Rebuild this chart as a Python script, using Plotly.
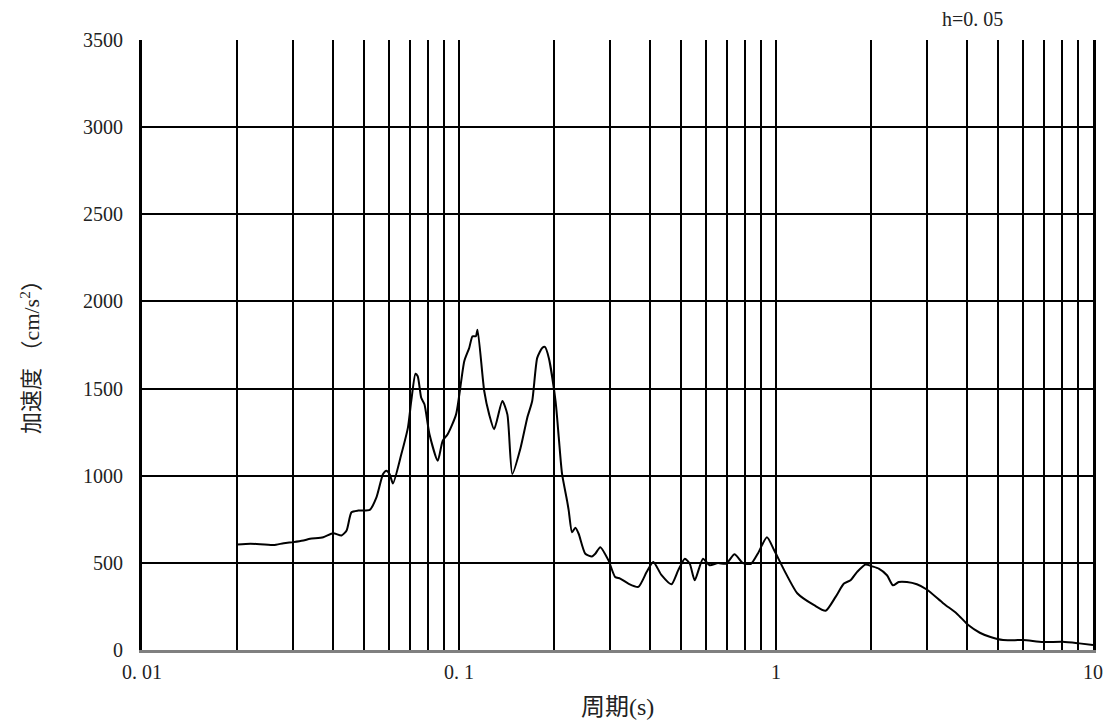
import plotly.graph_objects as go

# Acceleration response spectrum (h = 0.05)
period_s = [
    0.0200, 0.0220, 0.0260, 0.0280, 0.0300, 0.0323, 0.0339, 0.0373, 0.0401, 0.0426,
    0.0442, 0.0458, 0.0481, 0.0523, 0.0549, 0.0576, 0.0590, 0.0604, 0.0619, 0.0658,
    0.0690, 0.0707, 0.0729, 0.0741, 0.0760, 0.0778, 0.0807, 0.0857, 0.0888, 0.0921,
    0.0979, 0.1039, 0.1077, 0.1103, 0.1130, 0.1144, 0.1201, 0.1245, 0.1291, 0.1370,
    0.1421, 0.1473, 0.1565, 0.1642, 0.1702, 0.1765, 0.1830, 0.1866, 0.1920, 0.2016,
    0.2064, 0.2114, 0.2192, 0.2219, 0.2273, 0.2329, 0.2385, 0.2503, 0.2626, 0.2691,
    0.2790, 0.2962, 0.3109, 0.3224, 0.3422, 0.3679, 0.3907, 0.4101, 0.4355, 0.4679,
    0.4913, 0.5157, 0.5346, 0.5542, 0.5884, 0.6175, 0.6558, 0.6963, 0.7398, 0.7856,
    0.8343, 0.8755, 0.9363, 0.9878, 1.062, 1.169, 1.319, 1.434, 1.542, 1.638,
    1.718, 1.803, 1.915, 2.010, 2.109, 2.239, 2.339, 2.438, 2.588, 2.782,
    2.990, 3.374, 3.714, 4.042, 4.395, 4.724, 5.204, 6.015, 6.950, 8.028,
    9.050, 10.0,
]
accel_cm_s2 = [
    606, 610, 602, 613, 619, 628, 638, 647, 670, 657,
    686, 790, 800, 804, 876, 1010, 1029, 1010, 955, 1124,
    1276, 1429, 1585, 1571, 1447, 1410, 1238, 1086, 1200, 1238,
    1352, 1657, 1733, 1800, 1800, 1838, 1486, 1352, 1267, 1429,
    1352, 1010, 1162, 1333, 1429, 1676, 1733, 1739, 1676, 1429,
    1220, 1010, 857, 800, 676, 701, 667, 552, 537, 552,
    590, 514, 419, 410, 381, 362, 447, 505, 429, 377,
    457, 524, 495, 400, 524, 486, 499, 495, 549, 499,
    495, 552, 647, 571, 457, 324, 257, 225, 305, 381,
    400, 448, 491, 480, 467, 429, 371, 390, 390, 377,
    347, 267, 210, 143, 99, 76, 57, 57, 46, 47,
    38, 29,
]

# Log-scale axis: labelled decades, plus grid lines at every 2-9 multiple
x_decades = [0.01, 0.1, 1, 10]
x_decade_labels = ["0. 01", "0. 1", "1", "10"]
x_minor = [m * d for d in (0.01, 0.1, 1) for m in range(2, 10)]
y_ticks = [0, 500, 1000, 1500, 2000, 2500, 3000, 3500]

FONT = "Liberation Serif, Noto Sans CJK JP, serif"
TEXT_COLOR = "#222"

fig = go.Figure(
    go.Scatter(
        x=period_s,
        y=accel_cm_s2,
        mode="lines",
        line=dict(color="black", width=2, shape="spline", smoothing=0.6),
        showlegend=False,
    )
)

fig.update_layout(
    width=1115,
    height=724,
    margin=dict(l=142, r=15, t=40, b=74),
    paper_bgcolor="white",
    plot_bgcolor="white",
    font=dict(family=FONT, size=20, color=TEXT_COLOR),
    xaxis=dict(
        type="log",
        range=[-2, 1],
        tickvals=x_decades,
        ticktext=x_decade_labels,
        ticks="",
        ticklabelstandoff=2,
        showgrid=True,
        gridcolor="black",
        gridwidth=2,
        minor=dict(
            tickvals=x_minor,
            ticks="",
            showgrid=True,
            gridcolor="black",
            gridwidth=2,
        ),
        showline=True,
        linecolor="#808080",
        linewidth=3,
        zeroline=False,
    ),
    yaxis=dict(
        range=[0, 3500],
        tickvals=y_ticks,
        ticks="",
        ticklabelstandoff=12,
        showgrid=True,
        gridcolor="black",
        gridwidth=2,
        showline=True,
        linecolor="black",
        linewidth=3,
        mirror=True,
        zeroline=False,
    ),
    annotations=[
        dict(
            text="周期(s)",
            xref="paper", yref="paper",
            x=0.5, y=-0.093,
            xanchor="center", yanchor="middle",
            showarrow=False,
            font=dict(family=FONT, size=24, color=TEXT_COLOR),
        ),
        dict(
            text="加速度 （cm/s<sup>2</sup>）",
            xref="paper", yref="paper",
            x=-0.118, y=0.49,
            xanchor="center", yanchor="middle",
            textangle=-90,
            showarrow=False,
            font=dict(family=FONT, size=22, color=TEXT_COLOR),
        ),
        dict(
            text="h=0. 05",
            xref="paper", yref="paper",
            x=0.873, y=1.034,
            xanchor="center", yanchor="middle",
            showarrow=False,
            font=dict(family=FONT, size=20, color=TEXT_COLOR),
        ),
    ],
)

fig.write_html("out.html")
